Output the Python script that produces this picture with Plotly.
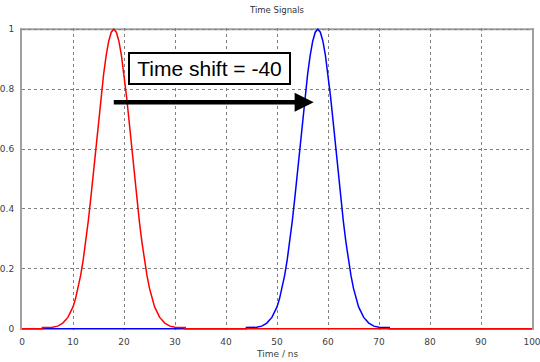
import plotly.graph_objects as go

# Red signal (ns, amplitude)
red_t = [0, 4, 4, 5, 6, 7, 8, 9, 10, 10.5, 11, 11.5, 12, 12.5, 13, 13.5, 14, 14.5, 15, 15.5,
         16, 16.5, 17, 17.5, 18, 18.5, 19, 19.5, 20, 20.5, 21, 21.5, 22, 22.5, 23, 23.5,
         24, 24.5, 25, 25.5, 26, 27, 28, 29, 30, 31, 32, 32, 100]
red_v = [0, 0, 0.004, 0.004, 0.005, 0.009, 0.019, 0.038, 0.073, 0.101, 0.135, 0.178, 0.23,
         0.291, 0.36, 0.438, 0.52, 0.607, 0.693, 0.775, 0.849, 0.912, 0.96, 0.99, 1.0,
         0.99, 0.96, 0.912, 0.849, 0.775, 0.693, 0.607, 0.52, 0.438, 0.36, 0.291, 0.23,
         0.178, 0.135, 0.101, 0.073, 0.038, 0.019, 0.009, 0.005, 0.004, 0.004, 0, 0]

# Blue signal (shifted copy)
blue_t = [0, 44, 44, 45, 46, 47, 48, 49, 50, 50.5, 51, 51.5, 52, 52.5, 53, 53.5, 54, 54.5,
          55, 55.5, 56, 56.5, 57, 57.5, 58, 58.5, 59, 59.5, 60, 60.5, 61, 61.5, 62, 62.5,
          63, 63.5, 64, 64.5, 65, 65.5, 66, 67, 68, 69, 70, 71, 72, 72, 100]
blue_v = [0, 0, 0.004, 0.004, 0.005, 0.009, 0.019, 0.038, 0.073, 0.101, 0.135, 0.178, 0.23,
          0.291, 0.36, 0.438, 0.52, 0.607, 0.693, 0.775, 0.849, 0.912, 0.96, 0.99, 1.0,
          0.99, 0.96, 0.912, 0.849, 0.775, 0.693, 0.607, 0.52, 0.438, 0.36, 0.291, 0.23,
          0.178, 0.135, 0.101, 0.073, 0.038, 0.019, 0.009, 0.005, 0.004, 0.004, 0, 0]

x_ticks = [0, 10, 20, 30, 40, 50, 60, 70, 80, 90, 100]
y_ticks = [0, 0.2, 0.4, 0.6, 0.8, 1]
y_tick_text = ["0", "0.2", "0.4", "0.6", "0.8", "1"]

title_text = "Time Signals"
x_title = "Time / ns"
shift_label = "Time shift = -40"
arrow_from = (17.7, 0.756)
arrow_to = (57.2, 0.756)
box_pos = (36.7, 0.868)

FONT = "DejaVu Sans"
TICK_COLOR = "#404040"

fig = go.Figure()
fig.add_trace(go.Scatter(x=blue_t, y=blue_v, mode="lines",
                         line=dict(color="#0000ff", width=1.5), hoverinfo="skip"))
fig.add_trace(go.Scatter(x=red_t, y=red_v, mode="lines",
                         line=dict(color="#ff0000", width=1.5), hoverinfo="skip"))

# top frame line
fig.add_shape(type="line", xref="x", yref="y", x0=0, x1=100, y0=1, y1=1,
              line=dict(color="#a0a0a0", width=2), layer="below")

fig.update_layout(
    width=540, height=362,
    margin=dict(l=22, r=8, t=28, b=32),
    paper_bgcolor="white", plot_bgcolor="white",
    showlegend=False,
    font=dict(family=FONT, size=9, color=TICK_COLOR),
)

# arrow
fig.add_annotation(x=arrow_to[0], y=arrow_to[1], ax=arrow_from[0], ay=arrow_from[1],
                   xref="x", yref="y", axref="x", ayref="y", text="",
                   showarrow=True, arrowhead=2, arrowsize=0.85, arrowwidth=4.5,
                   arrowcolor="black", standoff=0, startstandoff=0)
# box label
fig.add_annotation(x=box_pos[0], y=box_pos[1], xref="x", yref="y", text=shift_label,
                   showarrow=False, font=dict(family="Liberation Sans", size=21, color="black"),
                   bgcolor="white", bordercolor="black", borderwidth=2,
                   width=157, height=27, align="center")
# title
fig.add_annotation(x=0.5, y=1, xref="paper", yref="paper", yshift=18, yanchor="middle",
                   text=title_text, showarrow=False,
                   font=dict(family=FONT, size=8.5, color="#333333"))
# x axis title
fig.add_annotation(x=0.5, y=0, xref="paper", yref="paper", yshift=-24, yanchor="middle",
                   text=x_title, showarrow=False,
                   font=dict(family=FONT, size=9, color=TICK_COLOR))

fig.update_xaxes(range=[0, 100], tickvals=x_ticks, showgrid=True, gridcolor="#808080",
                 griddash="dot", gridwidth=1, zeroline=False, showline=False,
                 ticks="", ticklabelstandoff=5, automargin=False, ticklabeloverflow="allow",
                 tickfont=dict(family=FONT, size=9, color=TICK_COLOR), fixedrange=True)
fig.update_yaxes(range=[-0.004, 1.004], tickvals=y_ticks, ticktext=y_tick_text,
                 showgrid=True, gridcolor="#808080", griddash="dot", gridwidth=1,
                 zeroline=False, showline=True, linecolor="#a0a0a0", linewidth=2,
                 mirror=True, layer="below traces", ticks="", ticklabelstandoff=4,
                 automargin=False,
                 tickfont=dict(family=FONT, size=9, color=TICK_COLOR), fixedrange=True)

fig.write_html("out.html", config={"displayModeBar": False},
               post_script="document.body.style.margin='0';")
